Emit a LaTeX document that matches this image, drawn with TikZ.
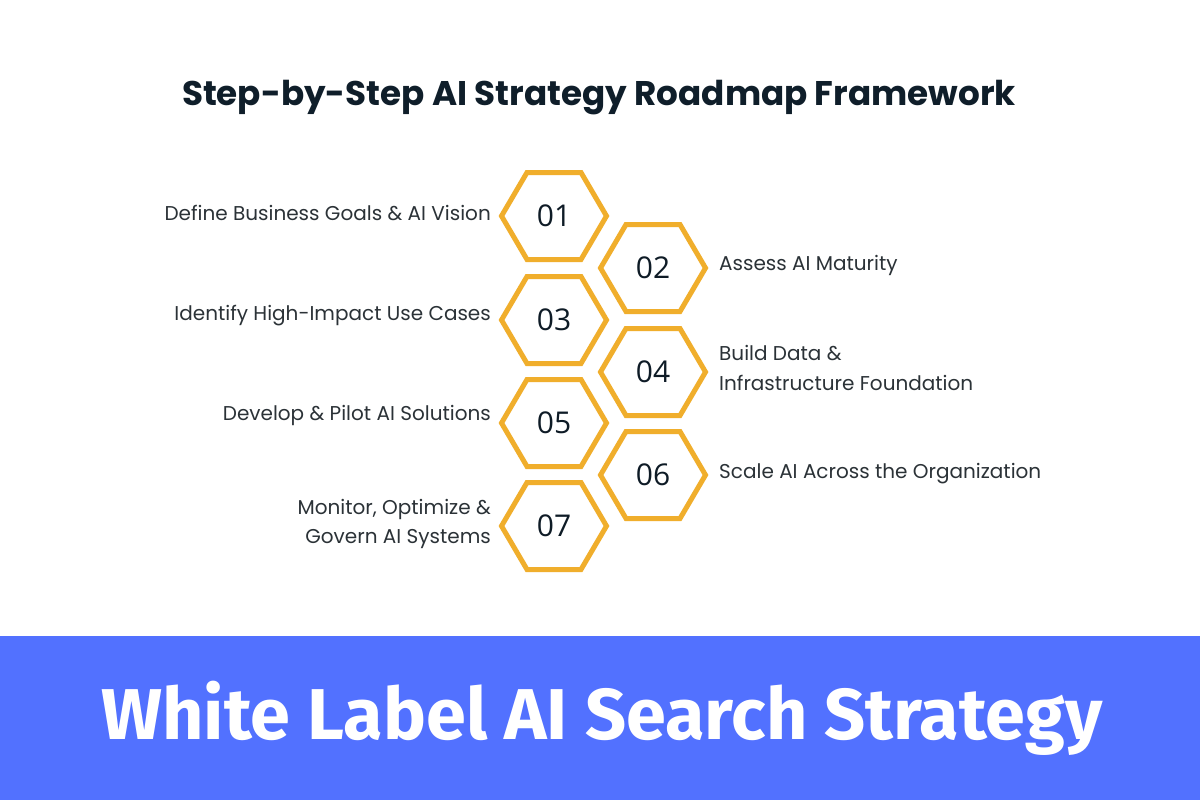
\documentclass[tikz,border=0pt]{standalone}
\usepackage{fontspec}
\newfontfamily\pop{Poppins}
\newfontfamily\numf{Open Sans}
\newfontfamily\banf{Fira Sans}
\definecolor{hexc}{HTML}{F0AE2C}
\definecolor{txt}{HTML}{2B3237}
\definecolor{ttl}{HTML}{0F1E2A}
\definecolor{ban}{HTML}{5271FF}
\begin{document}
\begin{tikzpicture}[x=1pt,y=-1pt,
  hexnum/.style={font=\numf\fontsize{30}{30}\selectfont, text=ttl!90!black, inner sep=0pt},
  lbl/.style={font=\pop\fontsize{20}{29.5}\selectfont, text=txt, inner sep=0pt},
  lblL/.style={lbl, anchor=east, align=right},
  lblR/.style={lbl, anchor=west, align=left},
  hexline/.style={draw=hexc, line width=5pt, line join=miter}]
\useasboundingbox (0,0) rectangle (1200,800);
\fill[white] (0,0) rectangle (1200,800);
% banner
\fill[ban] (0,636) rectangle (1200,800);
\node[font=\banf\bfseries\fontsize{72}{72}\selectfont, text=white, inner sep=0pt] (banner) at (602,718) {White Label AI Search Strategy};
% title
\node[font=\pop\bfseries\fontsize{34.2}{34.2}\selectfont, text=ttl, inner sep=0pt] (title) at (599,98) {Step-by-Step AI Strategy Roadmap Framework};
% hexagons
\foreach \n/\x/\y in {01/554/216, 02/653/268, 03/554/320, 04/653/372, 05/554/423, 06/653/475, 07/554/526}{
  \node[hexnum] (h\n) at (\x,\y) {\n};
  \draw[hexline] ([shift={(-52.5,0)}]h\n.center) -- ([shift={(-27,-43.5)}]h\n.center) -- ([shift={(27,-43.5)}]h\n.center) -- ([shift={(52.5,0)}]h\n.center) -- ([shift={(27,43.5)}]h\n.center) -- ([shift={(-27,43.5)}]h\n.center) -- cycle;
}
% labels
\node[lblL] (l1) at (491,213) {Define Business Goals \& AI Vision};
\node[lblR] (l2) at (719,265) {Assess AI Maturity};
\node[lblL] (l3) at (491,316) {Identify High-Impact Use Cases};
\node[lblR] (l4) at (719,368) {Build Data \&\\Infrastructure Foundation};
\node[lblL] (l5) at (491,415) {Develop \& Pilot AI Solutions};
\node[lblR] (l6) at (719,474) {Scale AI Across the Organization};
\node[lblL] (l7) at (491,524) {Monitor, Optimize \&\\Govern AI Systems};
\end{tikzpicture}
\end{document}
